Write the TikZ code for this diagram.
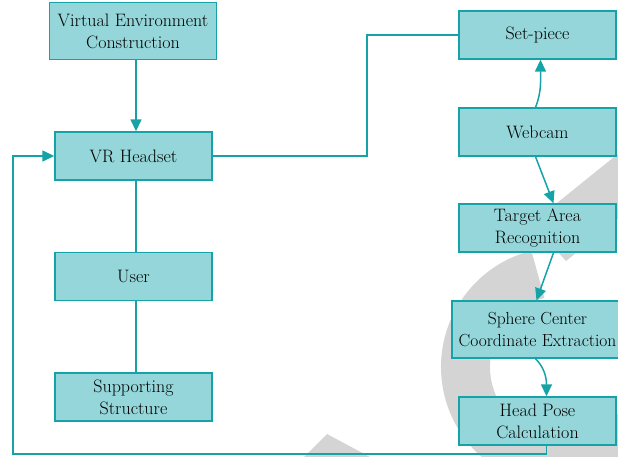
\documentclass[tikz,border=0pt]{standalone}
\usepackage{tikz}
\usetikzlibrary{arrows.meta}
\definecolor{boxfill}{RGB}{148,214,217}
\definecolor{boxline}{RGB}{22,163,168}
\definecolor{wmgray}{RGB}{212,212,212}

\begin{document}
\begin{tikzpicture}
    [x=1pt,y=-1pt,
     box/.style={draw=boxline,fill=boxfill,line width=1.4pt,minimum width=157pt,minimum height=48pt,
                 inner sep=1pt,align=center,text=black,font=\fontsize{18}{22}\selectfont},
     link/.style={draw=boxline,line width=1.5pt},
     arr/.style={link,-{Triangle[length=12pt,width=11pt]}}]
    \useasboundingbox (0,0) rectangle (618,456);
    % grey mark behind the chart
    \begin{scope}
        \clip (0,0) rectangle (618,456);
        \draw[wmgray,line width=49pt] (561,367) ++(256:95.5) arc[start angle=256,end angle=40,radius=95.5];
        \fill[wmgray] (650,128) -- (557,203) -- (556,250) -- (566,261) -- (650,193) -- cycle;
        \fill[wmgray] (327,434) -- (290,471) -- (400,473) -- cycle;
    \end{scope}
    \node[box,minimum width=167pt,minimum height=57pt] (vec) at (133,31) {Virtual Environment\\Construction};
    \node[box] (vr) at (133.5,156) {VR Headset};
    \node[box] (user) at (133.5,276.5) {User};
    \node[box] (supp) at (133.5,397) {Supporting\\Structure};
    \node[box] (set) at (537.5,35) {Set-piece};
    \node[box] (cam) at (537.5,132) {Webcam};
    \node[box] (tar) at (537.5,228) {Target Area\\Recognition};
    \node[box,minimum width=171pt,minimum height=57pt,font=\fontsize{17.5}{22}\selectfont] (sph) at (537.5,329.5) {Sphere Center\\Coordinate Extraction};
    \node[box] (head) at (537.5,421) {Head Pose\\Calculation};
    \coordinate (elbow) at (367,156);
    \coordinate (back) at (13,454);
    \foreach \from/\to in {vr/user,user/supp}
        \draw[link] ([xshift=2.5pt]\from.south) -- ([xshift=2.5pt]\to.north);
    \draw[arr] ([xshift=3pt]vec.south) -- ([xshift=2.5pt]vr.north);
    \draw[link] (vr.east) -- (elbow) |- (set.west);
    \draw[arr] ([xshift=-2pt]cam.north) .. controls +(6,-15) and +(0,22) .. ([xshift=3pt]set.south);
    \draw[arr] ([xshift=-2pt]cam.south) -- ([xshift=16pt]tar.north);
    \draw[arr] ([xshift=16pt]tar.south) -- ([xshift=-1pt]sph.north);
    \draw[arr] ([xshift=-2pt]sph.south) .. controls +(8,8) and +(0,-20) .. ([xshift=9pt]head.north);
    \draw[arr] ([xshift=9pt]head.south) |- (back) |- (vr.west);
\end{tikzpicture}
\end{document}
